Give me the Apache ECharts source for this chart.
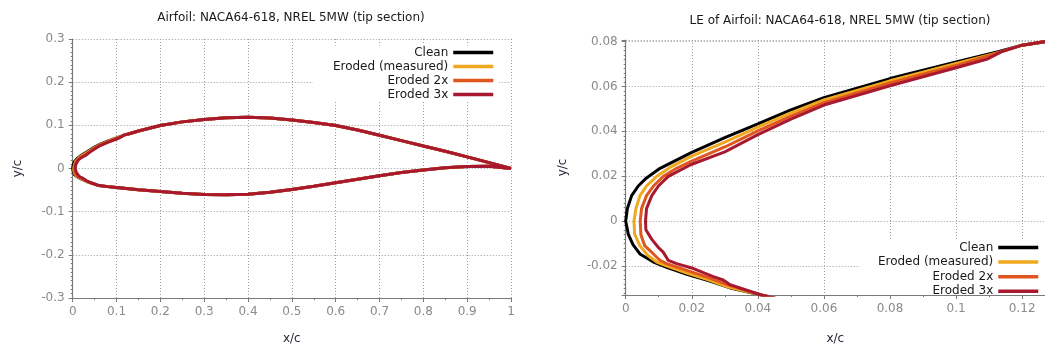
<!DOCTYPE html>
<html><head><meta charset="utf-8">
<script src="https://cdn.jsdelivr.net/npm/echarts@6/dist/echarts.min.js"></script>
<style>html,body{margin:0;padding:0;background:#fff}#chart{width:1045px;height:350px}</style>
</head><body><div id="chart"></div>
<script>
// ---------------- DATA ----------------
const seriesNames = ['Clean', 'Eroded (measured)', 'Eroded 2x', 'Eroded 3x'];

// Shared upper surface: trailing edge forward to x = 0.127
const upperAftX = [1.0, 0.95, 0.9, 0.85, 0.8, 0.75, 0.7, 0.65, 0.6, 0.55, 0.5, 0.45, 0.4, 0.35, 0.3, 0.25, 0.2, 0.15, 0.127];
const upperAftY = [0.0, 0.0135, 0.027, 0.040, 0.052, 0.0645, 0.077, 0.089, 0.0995, 0.1065, 0.1125, 0.117, 0.119, 0.1175, 0.1135, 0.108, 0.0995, 0.087, 0.0800];

// Shared lower surface: x = 0.06 aft to trailing edge
const lowerAftX = [0.06, 0.08, 0.1, 0.15, 0.2, 0.25, 0.3, 0.35, 0.4, 0.45, 0.5, 0.55, 0.6, 0.65, 0.7, 0.75, 0.8, 0.85, 0.9, 0.95, 1.0];
const lowerAftY = [-0.0395, -0.042, -0.0438, -0.049, -0.0535, -0.0575, -0.0600, -0.0607, -0.0595, -0.0550, -0.0485, -0.0410, -0.0330, -0.0250, -0.0170, -0.0095, -0.0035, 0.0015, 0.0045, 0.0050, 0.0];

// Leading-edge region, upper x = 0.12 -> nose -> lower x = 0.041
const cleanLeX = [0.12, 0.113, 0.1, 0.08, 0.06, 0.05, 0.04, 0.03, 0.02, 0.0104, 0.0063, 0.0038, 0.0018, 0.0005, 0.0, 0.0008, 0.0022, 0.0043, 0.0084, 0.0124, 0.0185, 0.0255, 0.032, 0.041];
const cleanLeY = [0.0784, 0.0756, 0.0709, 0.0635, 0.0550, 0.0495, 0.0433, 0.0372, 0.0306, 0.0235, 0.0192, 0.0156, 0.0113, 0.0055, 0.0, -0.006, -0.0105, -0.0147, -0.0183, -0.0207, -0.0238, -0.0268, -0.0300, -0.033];

const measLeX = [0.12, 0.113, 0.1, 0.08, 0.06, 0.05, 0.04, 0.03, 0.0198, 0.0134, 0.0094, 0.0063, 0.0043, 0.0031, 0.0025, 0.0027, 0.0043, 0.0068, 0.0094, 0.0119, 0.0185, 0.0255, 0.031, 0.041];
const measLeY = [0.0784, 0.0752, 0.0702, 0.0625, 0.0540, 0.0482, 0.0418, 0.0352, 0.0288, 0.0239, 0.0199, 0.0156, 0.0113, 0.0055, 0.0, -0.0058, -0.0111, -0.0155, -0.0183, -0.0198, -0.0232, -0.0265, -0.0295, -0.033];

const x2LeX = [0.12, 0.1138, 0.1, 0.08, 0.06, 0.05, 0.04, 0.03, 0.0198, 0.0154, 0.0114, 0.0084, 0.0063, 0.0048, 0.0044, 0.0046, 0.0058, 0.0084, 0.0104, 0.0124, 0.0185, 0.0255, 0.0306, 0.041];
const x2LeY = [0.0784, 0.0755, 0.0693, 0.0615, 0.0528, 0.0468, 0.0402, 0.0330, 0.0266, 0.0235, 0.0199, 0.0156, 0.0113, 0.0055, 0.0, -0.0061, -0.0111, -0.0147, -0.0176, -0.019, -0.022, -0.0255, -0.0284, -0.033];

const x3LeX = [0.12, 0.1138, 0.1092, 0.1, 0.08, 0.06, 0.05, 0.04, 0.03, 0.0198, 0.0129, 0.0099, 0.0079, 0.0063, 0.006, 0.0061, 0.0079, 0.0099, 0.0114, 0.0129, 0.0154, 0.0205, 0.0265, 0.0295, 0.0316, 0.041];
const x3LeY = [0.0784, 0.0755, 0.0721, 0.0683, 0.0603, 0.0517, 0.0454, 0.0385, 0.0308, 0.0252, 0.0199, 0.0156, 0.0113, 0.0055, 0.0, -0.0039, -0.0082, -0.0118, -0.014, -0.0176, -0.019, -0.0212, -0.0248, -0.0263, -0.0284, -0.033];

const leX = [cleanLeX, measLeX, x2LeX, x3LeX];
const leY = [cleanLeY, measLeY, x2LeY, x3LeY];

// ---------------- BUILD ----------------
function zip(xs, ys) { return xs.map((x, i) => [x, ys[i]]); }
function fullProfile(i) {
  return zip(upperAftX, upperAftY).concat(zip(leX[i], leY[i]), zip(lowerAftX, lowerAftY));
}
const colors = ['#000000', '#f0a820', '#e0561f', '#a8192f'];
const FONT = 'DejaVu Sans';
const labelColor = '#8a8a8a';
const axisColor = '#7a7a7a';
const gridLine = { show: true, lineStyle: { color: '#9a9a9a', width: 1, type: [1, 2] } };

function axisCommon(extra) {
  return Object.assign({
    type: 'value',
    nameLocation: 'middle',
    nameTextStyle: { fontFamily: FONT, fontSize: 12, color: '#222a36' },
    axisLine: { show: true, onZero: false, lineStyle: { color: axisColor, width: 1.2 } },
    axisTick: { show: true, inside: false, length: 4, lineStyle: { color: axisColor } },
    minorTick: { show: true, length: 2, lineStyle: { color: axisColor } },
    splitLine: gridLine,
    axisLabel: { fontFamily: FONT, fontSize: 12, color: labelColor }
  }, extra);
}

const series = [];
for (let g = 0; g < 2; g++) {
  for (let i = 0; i < 4; i++) {
    series.push({
      name: seriesNames[i], type: 'line', xAxisIndex: g, yAxisIndex: g,
      data: fullProfile(i), showSymbol: false, symbol: 'none', clip: true,
      lineStyle: { color: colors[i], width: 3 }, itemStyle: { color: colors[i] },
      z: 2 + i
    });
  }
}

function legendFor(extra) {
  return Object.assign({
    orient: 'vertical', align: 'right', itemWidth: 40, itemHeight: 14,
    backgroundColor: '#ffffff', data: seriesNames, selectedMode: false,
    itemStyle: { opacity: 0 },
    lineStyle: { width: 3.5 },
    textStyle: { fontFamily: FONT, fontSize: 12, color: '#1a1a1a' }
  }, extra);
}

const option = {
  animation: false,
  backgroundColor: '#ffffff',
  title: [
    { text: 'Airfoil: NACA64-618, NREL 5MW (tip section)', left: 291, top: 12, textAlign: 'center', padding: 0,
      textStyle: { fontFamily: FONT, fontSize: 12, fontWeight: 'normal', color: '#1a1a1a' } },
    { text: 'LE of Airfoil: NACA64-618, NREL 5MW (tip section)', left: 840, top: 15, textAlign: 'center', padding: 0,
      textStyle: { fontFamily: FONT, fontSize: 12, fontWeight: 'normal', color: '#1a1a1a' } }
  ],
  legend: [
    legendFor({ right: 546, top: 45.5, itemGap: 2, padding: [1, 4, 1, 20] }),
    legendFor({ right: 0, top: 240.5, itemGap: 2.6, padding: [1, 5, 0, 18] })
  ],
  grid: [
    { left: 72.7, top: 39, width: 438.3, height: 262.7 },
    { left: 625.7, top: 40, width: 419.3, height: 262 }
  ],
  xAxis: [
    axisCommon({ gridIndex: 0, min: 0, max: 1, interval: 0.1, name: 'x/c', nameGap: 35,
      minorTick: { show: true, splitNumber: 2, length: 2, lineStyle: { color: axisColor } } }),
    axisCommon({ gridIndex: 1, min: 0, max: 0.1269, interval: 0.02, name: 'x/c', nameGap: 38, z: 5,
      splitLine: { show: false },
      minorTick: { show: true, splitNumber: 2, length: 2, lineStyle: { color: axisColor } },
      axisLabel: { fontFamily: FONT, fontSize: 12, color: labelColor, showMaxLabel: false } }),
    // grid lines for the right panel's x axis, kept beneath the legend box
    axisCommon({ gridIndex: 1, min: 0, max: 0.1269, interval: 0.02, z: 0,
      axisLine: { show: false }, axisTick: { show: false }, minorTick: { show: false },
      axisLabel: { show: false } })
  ],
  yAxis: [
    axisCommon({ gridIndex: 0, min: -0.3, max: 0.3, interval: 0.1, name: 'y/c', nameGap: 49,
      minorTick: { show: true, splitNumber: 10, length: 2, lineStyle: { color: axisColor } } }),
    axisCommon({ gridIndex: 1, min: -0.033, max: 0.0807, splitNumber: 5, name: 'y/c', nameGap: 57,
      minorTick: { show: true, splitNumber: 10, length: 2, lineStyle: { color: axisColor } },
      axisLabel: { fontFamily: FONT, fontSize: 12, color: labelColor, showMinLabel: false, showMaxLabel: false } })
  ],
  series: series
};
const chart = echarts.init(document.getElementById('chart'), null, { renderer: 'canvas' });
chart.setOption(option);
</script></body></html>
